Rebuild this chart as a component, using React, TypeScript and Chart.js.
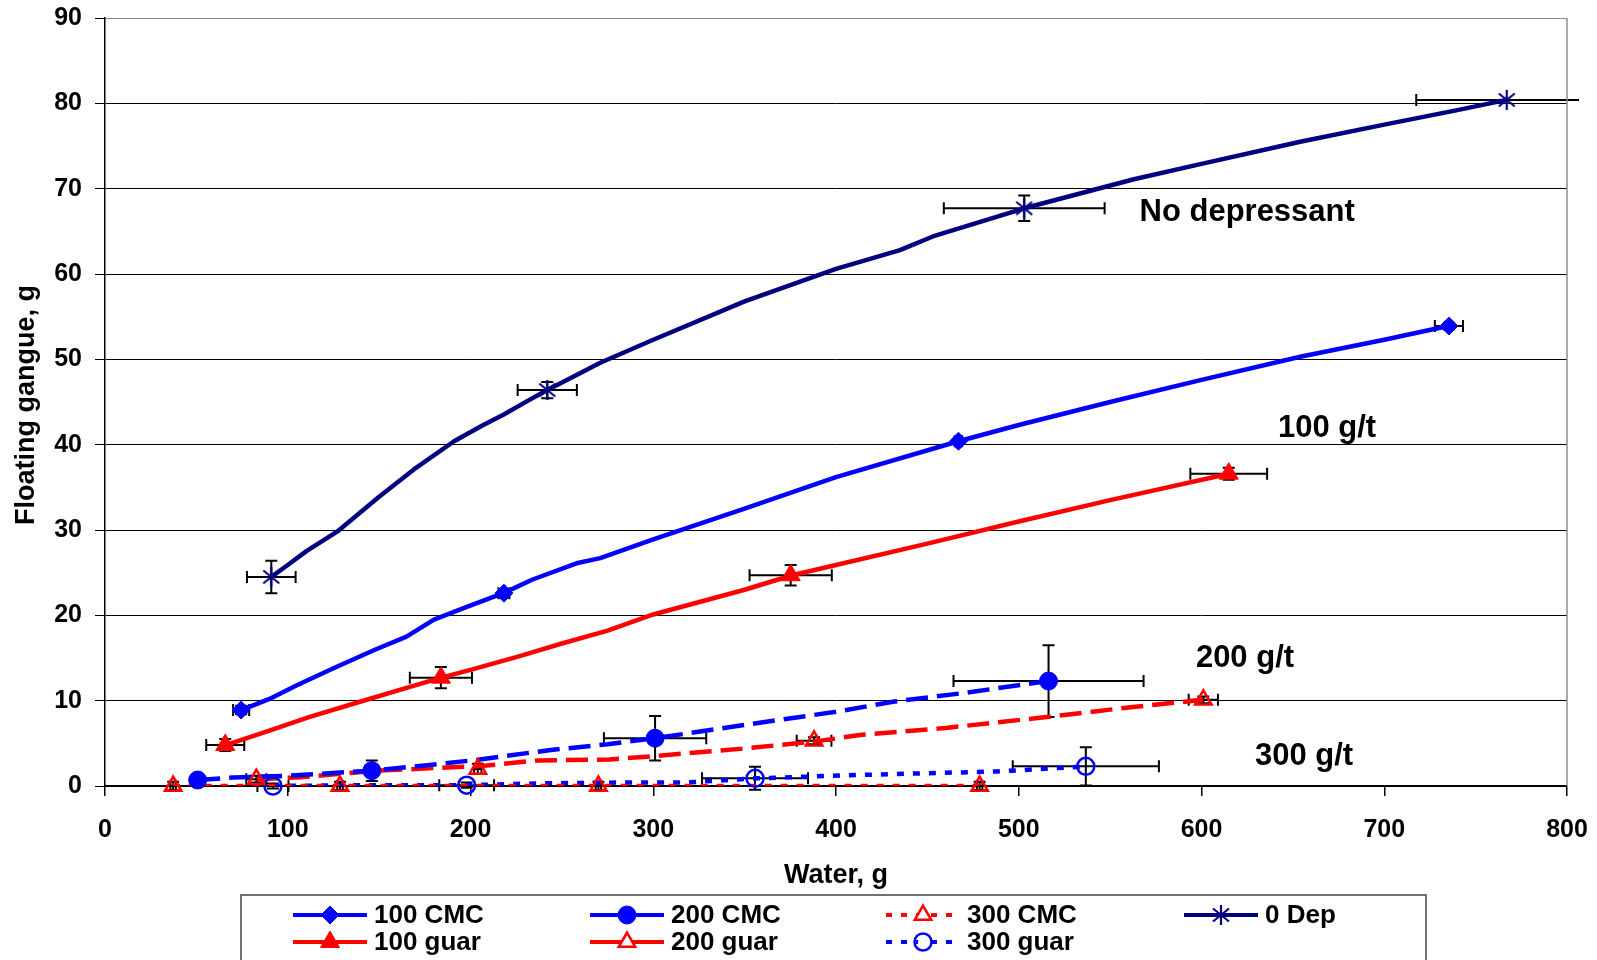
import React, { useEffect, useRef } from 'react';
import { Chart, registerables } from 'chart.js';
Chart.register(...registerables);

const FONT = "'Liberation Sans', Arial, Helvetica, sans-serif";
const NAVY = '#000080';
const BLUE = '#0000FF';
const RED = '#FF0000';

// ---- axis ticks ----
const xTickValues = [0, 100, 200, 300, 400, 500, 600, 700, 800];
const yTickValues = [0, 10, 20, 30, 40, 50, 60, 70, 80, 90];

// ---- curves (Water g -> Floating gangue g) ----
const depCurveX = [91, 100, 110, 127, 150, 169, 191, 207, 218, 231, 242, 253, 271, 300, 350, 400, 435, 453, 503, 563, 600, 654, 700, 740, 767];
const depCurveY = [24.5, 25.9, 27.5, 29.8, 33.9, 37.1, 40.4, 42.3, 43.5, 45.1, 46.4, 47.6, 49.6, 52.3, 56.8, 60.6, 62.8, 64.4, 67.7, 71.1, 72.9, 75.5, 77.5, 79.2, 80.4];

const cmc100CurveX = [74.5, 90, 105, 125, 148, 165, 180, 198, 218, 234, 258, 271, 300, 350, 400, 467, 500, 550, 600, 654, 700, 735];
const cmc100CurveY = [8.9, 10.2, 11.8, 13.8, 16.0, 17.5, 19.5, 21.0, 22.6, 24.2, 26.1, 26.7, 28.9, 32.5, 36.2, 40.4, 42.3, 45.0, 47.6, 50.3, 52.3, 53.9];

const guar100CurveX = [66, 90, 112, 140, 165, 184, 200, 225, 250, 275, 300, 350, 376, 400, 450, 500, 550, 615];
const guar100CurveY = [4.8, 6.5, 8.1, 9.9, 11.5, 12.7, 13.6, 15.1, 16.7, 18.2, 20.1, 23.0, 24.7, 25.9, 28.4, 31.0, 33.5, 36.6];

const cmc200CurveX = [51, 70, 100, 146, 175, 205, 243, 275, 301, 345, 400, 432, 470, 516];
const cmc200CurveY = [0.7, 1.0, 1.2, 1.8, 2.4, 3.1, 4.2, 4.9, 5.6, 7.0, 8.7, 9.9, 10.9, 12.3];

const guar200CurveX = [83, 105, 150, 190, 204, 237, 276, 300, 350, 388, 414, 460, 520, 560, 601];
const guar200CurveY = [0.8, 1.0, 1.8, 2.2, 2.3, 3.0, 3.1, 3.5, 4.4, 5.2, 6.0, 6.8, 8.2, 9.2, 10.1];

const cmc300CurveX = [37, 129, 270, 479];
const cmc300CurveY = [0, 0, 0, 0];

const guar300CurveX = [92, 150, 198, 237, 280, 317, 356, 414, 450, 488, 537];
const guar300CurveY = [0.0, 0.1, 0.1, 0.3, 0.4, 0.4, 0.9, 1.3, 1.5, 1.7, 2.3];

// ---- measured points with ± errors ----
const depX = [91, 242, 503, 767];
const depY = [24.5, 46.4, 67.7, 80.4];
const depXErr = [13.3, 16.2, 44, 49.5];
const depYErr = [1.9, 0.95, 1.5, 0];

const cmc100X = [74.5, 218.3, 467, 735.4];
const cmc100Y = [8.9, 22.6, 40.4, 53.9];
const cmc100XErr = [4.4, 3, 2, 7.7];
const cmc100YErr = [0.5, 0.5, 0.3, 0.4];

const guar100X = [65.8, 183.8, 375.2, 614.9];
const guar100Y = [4.8, 12.7, 24.7, 36.6];
const guar100XErr = [10.4, 17, 22.5, 21];
const guar100YErr = [0.7, 1.25, 1.2, 0.7];

const cmc200X = [50.7, 146, 301, 516.3];
const cmc200Y = [0.7, 1.8, 5.6, 12.3];
const cmc200XErr = [0, 3, 28, 52];
const cmc200YErr = [0, 1.2, 2.6, 4.2];

const guar200X = [82.8, 204, 388, 601];
const guar200Y = [0.8, 2.0, 5.3, 10.1];
const guar200XErr = [5.5, 2, 9.5, 8];
const guar200YErr = [0.4, 0.6, 0.4, 0.4];

const cmc300X = [37.3, 128.6, 270, 478.6];
const cmc300Y = [0, 0, 0, 0];
const cmc300XErr = [1.5, 1.5, 1.5, 1.5];
const cmc300YErr = [0.5, 0.5, 0.5, 0.5];

const guar300X = [91.9, 197.9, 355.7, 536.7];
const guar300Y = [0, 0.1, 0.9, 2.3];
const guar300XErr = [8.5, 15, 29, 40];
const guar300YErr = [0.3, 0.3, 1.35, 2.25];

// ---- annotations (data coordinates, baseline) ----
const noteTexts = ['No depressant', '100 g/t', '200 g/t', '300 g/t'];
const noteX = [625, 668.7, 623.8, 656.1];
const noteY = [66.2, 40.9, 13.9, 2.5];

const xTitle = 'Water, g';
const yTitle = 'Floating gangue, g';

const legendLabels = ['100 CMC', '200 CMC', '300 CMC', '0 Dep', '100 guar', '200 guar', '300 guar'];

const pts = (xs: number[], ys: number[]) => xs.map((v, i) => ({ x: v, y: ys[i] }));

function makeAsterisk(color: string, size: number) {
  const c = document.createElement('canvas');
  c.width = size;
  c.height = size;
  const g = c.getContext('2d')!;
  g.strokeStyle = color;
  g.lineWidth = 2.2;
  const m = size / 2;
  const r = size / 2 - 1;
  g.beginPath();
  g.moveTo(m, m - r);
  g.lineTo(m, m + r);
  g.moveTo(m - r * 0.8, m - r * 0.65);
  g.lineTo(m + r * 0.8, m + r * 0.65);
  g.moveTo(m - r * 0.8, m + r * 0.65);
  g.lineTo(m + r * 0.8, m - r * 0.65);
  g.stroke();
  return c;
}

function drawMarker(ctx: CanvasRenderingContext2D, style: string, x: number, y: number, r: number, color: string, filled: boolean, img?: HTMLCanvasElement) {
  ctx.save();
  ctx.fillStyle = color;
  ctx.strokeStyle = color;
  ctx.lineWidth = filled ? 1 : 2.5;
  ctx.beginPath();
  if (style === 'img' && img) {
    ctx.drawImage(img, x - img.width / 2, y - img.height / 2);
    ctx.restore();
    return;
  }
  if (style === 'circle') {
    ctx.arc(x, y, r, 0, Math.PI * 2);
  } else if (style === 'triangle') {
    for (let k = 0; k < 3; k++) {
      const a = (k * 2 * Math.PI) / 3;
      const px = x + Math.sin(a) * r;
      const py = y - Math.cos(a) * r;
      if (k === 0) ctx.moveTo(px, py);
      else ctx.lineTo(px, py);
    }
    ctx.closePath();
  } else if (style === 'rectRot') {
    ctx.moveTo(x, y - r);
    ctx.lineTo(x + r, y);
    ctx.lineTo(x, y + r);
    ctx.lineTo(x - r, y);
    ctx.closePath();
  }
  if (filled) ctx.fill();
  ctx.stroke();
  ctx.restore();
}

export default function App() {
  const ref = useRef<HTMLCanvasElement | null>(null);

  useEffect(() => {
    document.body.style.margin = '0';
    const canvas = ref.current!;
    const asterisk = makeAsterisk(NAVY, 22);

    const errGroups = [
      { xs: depX, ys: depY, xe: depXErr, ye: depYErr },
      { xs: cmc100X, ys: cmc100Y, xe: cmc100XErr, ye: cmc100YErr },
      { xs: guar100X, ys: guar100Y, xe: guar100XErr, ye: guar100YErr },
      { xs: cmc200X, ys: cmc200Y, xe: cmc200XErr, ye: cmc200YErr },
      { xs: guar200X, ys: guar200Y, xe: guar200XErr, ye: guar200YErr },
      { xs: cmc300X, ys: cmc300Y, xe: cmc300XErr, ye: cmc300YErr },
      { xs: guar300X, ys: guar300Y, xe: guar300XErr, ye: guar300YErr },
    ];

    const overlay = {
      id: 'overlay',
      beforeDatasetsDraw(chart: any) {
        const { ctx, chartArea: a, scales } = chart;
        const xs = scales.x;
        const ys = scales.y;
        ctx.save();
        ctx.beginPath();
        ctx.rect(a.left - 40, a.top - 10, a.right - a.left + 52, a.bottom - a.top + 30);
        ctx.clip();
        ctx.strokeStyle = '#000';
        ctx.lineWidth = 2;
        const cap = 6;
        errGroups.forEach((gp) => {
          gp.xs.forEach((xv, i) => {
            const px = xs.getPixelForValue(xv);
            const py = ys.getPixelForValue(gp.ys[i]);
            ctx.beginPath();
            if (gp.xe[i] > 0) {
              const x1 = xs.getPixelForValue(xv - gp.xe[i]);
              const x2 = xs.getPixelForValue(xv + gp.xe[i]);
              ctx.moveTo(x1, py); ctx.lineTo(x2, py);
              ctx.moveTo(x1, py - cap); ctx.lineTo(x1, py + cap);
              ctx.moveTo(x2, py - cap); ctx.lineTo(x2, py + cap);
            }
            if (gp.ye[i] > 0) {
              const y1 = ys.getPixelForValue(gp.ys[i] - gp.ye[i]);
              const y2 = ys.getPixelForValue(gp.ys[i] + gp.ye[i]);
              ctx.moveTo(px, y1); ctx.lineTo(px, y2);
              ctx.moveTo(px - cap, y1); ctx.lineTo(px + cap, y1);
              ctx.moveTo(px - cap, y2); ctx.lineTo(px + cap, y2);
            }
            ctx.stroke();
          });
        });
        ctx.restore();
      },
      afterDraw(chart: any) {
        const { ctx, chartArea: a, scales } = chart;
        const xs = scales.x;
        const ys = scales.y;
        ctx.save();
        // right border of plot area
        ctx.strokeStyle = '#8c8c8c';
        ctx.lineWidth = 1.5;
        ctx.beginPath();
        ctx.moveTo(a.right, a.top);
        ctx.lineTo(a.right, a.bottom);
        ctx.stroke();

        // annotations
        ctx.fillStyle = '#000';
        ctx.font = `bold 31px ${FONT}`;
        ctx.textAlign = 'center';
        ctx.textBaseline = 'alphabetic';
        noteTexts.forEach((t, i) => {
          ctx.fillText(t, xs.getPixelForValue(noteX[i]), ys.getPixelForValue(noteY[i]));
        });

        // axis titles
        ctx.font = `bold 27px ${FONT}`;
        ctx.fillText(xTitle, (a.left + a.right) / 2, 883);
        ctx.save();
        ctx.translate(34, 405);
        ctx.rotate(-Math.PI / 2);
        ctx.fillText(yTitle, 0, 0);
        ctx.restore();

        // legend
        ctx.strokeStyle = '#444';
        ctx.lineWidth = 1.5;
        ctx.strokeRect(241, 895, 1185, 100);
        const cols = [293, 590, 886, 1184];
        const rows = [915, 942];
        const items = [
          { c: 0, r: 0, color: BLUE, dash: [] as number[], m: 'rectRot', rad: 9, f: true },
          { c: 1, r: 0, color: BLUE, dash: [], m: 'circle', rad: 9, f: true },
          { c: 2, r: 0, color: RED, dash: [6, 9], m: 'triangle', rad: 9.5, f: false },
          { c: 3, r: 0, color: NAVY, dash: [], m: 'img', rad: 9, f: false },
          { c: 0, r: 1, color: RED, dash: [], m: 'triangle', rad: 11, f: true },
          { c: 1, r: 1, color: RED, dash: [], m: 'triangle', rad: 9.5, f: false },
          { c: 2, r: 1, color: BLUE, dash: [6, 9], m: 'circle', rad: 8.5, f: false },
        ];
        ctx.font = `bold 26px ${FONT}`;
        ctx.textAlign = 'left';
        ctx.textBaseline = 'middle';
        items.forEach((it, i) => {
          const x0 = cols[it.c];
          const y0 = rows[it.r];
          ctx.save();
          ctx.strokeStyle = it.color;
          ctx.lineWidth = 4;
          ctx.setLineDash(it.dash);
          ctx.beginPath();
          ctx.moveTo(x0, y0);
          ctx.lineTo(x0 + 74, y0);
          ctx.stroke();
          ctx.restore();
          if (!it.f && it.m !== 'img') {
            ctx.save();
            ctx.fillStyle = '#fff';
            ctx.beginPath();
            ctx.arc(x0 + 37, y0, it.rad * 0.6, 0, Math.PI * 2);
            ctx.fill();
            ctx.restore();
          }
          drawMarker(ctx, it.m, x0 + 37, y0, it.rad, it.color, it.f, asterisk);
          ctx.fillStyle = '#000';
          ctx.fillText(legendLabels[i], x0 + 81, y0 + 1);
        });
        ctx.restore();
      },
    };

    const lineDs = (xsA: number[], ysA: number[], color: string, dash: number[]) => ({
      type: 'line',
      data: pts(xsA, ysA),
      borderColor: color,
      borderWidth: 4.5,
      borderDash: dash,
      borderCapStyle: 'butt',
      borderJoinStyle: 'round',
      pointRadius: 0,
      fill: false,
      tension: 0,
      order: 2,
    });
    const markDs = (xsA: number[], ysA: number[], color: string, style: any, r: number, filled: boolean) => ({
      type: 'line',
      data: pts(xsA, ysA),
      showLine: false,
      pointStyle: style,
      pointRadius: r,
      pointBackgroundColor: filled ? color : 'rgba(0,0,0,0)',
      pointBorderColor: color,
      pointBorderWidth: filled ? 1 : 2.5,
      clip: false,
      order: 1,
    });

    const tickFont = { family: FONT, size: 25, weight: 'bold' as const };

    const chart = new Chart(canvas, {
      type: 'line',
      data: {
        datasets: [
          lineDs(depCurveX, depCurveY, NAVY, []),
          lineDs(cmc100CurveX, cmc100CurveY, BLUE, []),
          lineDs(guar100CurveX, guar100CurveY, RED, []),
          lineDs(cmc200CurveX, cmc200CurveY, BLUE, [22, 9]),
          lineDs(guar200CurveX, guar200CurveY, RED, [22, 9]),
          lineDs(cmc300CurveX, cmc300CurveY, RED, [7, 9]),
          lineDs(guar300CurveX, guar300CurveY, BLUE, [7, 9]),
          markDs(depX, depY, NAVY, asterisk, 11, false),
          markDs(cmc100X, cmc100Y, BLUE, 'rectRot', 9, true),
          markDs(guar100X, guar100Y, RED, 'triangle', 11, true),
          markDs(cmc200X, cmc200Y, BLUE, 'circle', 9, true),
          markDs(guar200X, guar200Y, RED, 'triangle', 9.5, false),
          markDs(cmc300X, cmc300Y, RED, 'triangle', 9.5, false),
          markDs(guar300X, guar300Y, BLUE, 'circle', 8.5, false),
        ] as any,
      },
      options: {
        animation: false,
        responsive: false,
        devicePixelRatio: 1,
        layout: { padding: { left: 0, top: 18, right: 30, bottom: 0 } },
        plugins: { legend: { display: false }, tooltip: { enabled: false } },
        scales: {
          x: {
            type: 'linear',
            min: 0,
            max: 800,
            afterBuildTicks: (s: any) => { s.ticks = xTickValues.map((v) => ({ value: v })); },
            afterFit: (s: any) => {
              s.height = 174;
              s.paddingLeft = 0; s.paddingRight = 0; s.paddingTop = 0; s.paddingBottom = 0;
            },
            ticks: { font: tickFont, color: '#000', padding: 19, maxRotation: 0 },
            grid: { drawOnChartArea: false, drawTicks: true, tickLength: 10, color: '#000', lineWidth: 1.5 },
            border: { display: true, color: '#000', width: 1.5 },
          },
          y: {
            type: 'linear',
            min: 0,
            max: 90,
            afterBuildTicks: (s: any) => { s.ticks = yTickValues.map((v) => ({ value: v })); },
            afterFit: (s: any) => {
              s.width = 105;
              s.paddingLeft = 0; s.paddingRight = 0; s.paddingTop = 0; s.paddingBottom = 0;
            },
            ticks: { font: tickFont, color: '#000', padding: 13 },
            grid: {
              color: (c: any) => (c.tick && c.tick.value === 90 ? '#8c8c8c' : '#000'),
              lineWidth: 1,
              tickLength: 10,
              drawTicks: true,
              tickColor: '#000',
            },
            border: { display: true, color: '#000', width: 1.5 },
          },
        },
      } as any,
      plugins: [overlay],
    });
    return () => chart.destroy();
  }, []);

  return (
    <div style={{ position: 'fixed', left: 0, top: 0, width: 1597, height: 960, background: '#fff' }}>
      <canvas ref={ref} width={1597} height={960} style={{ display: 'block' }} />
    </div>
  );
}
